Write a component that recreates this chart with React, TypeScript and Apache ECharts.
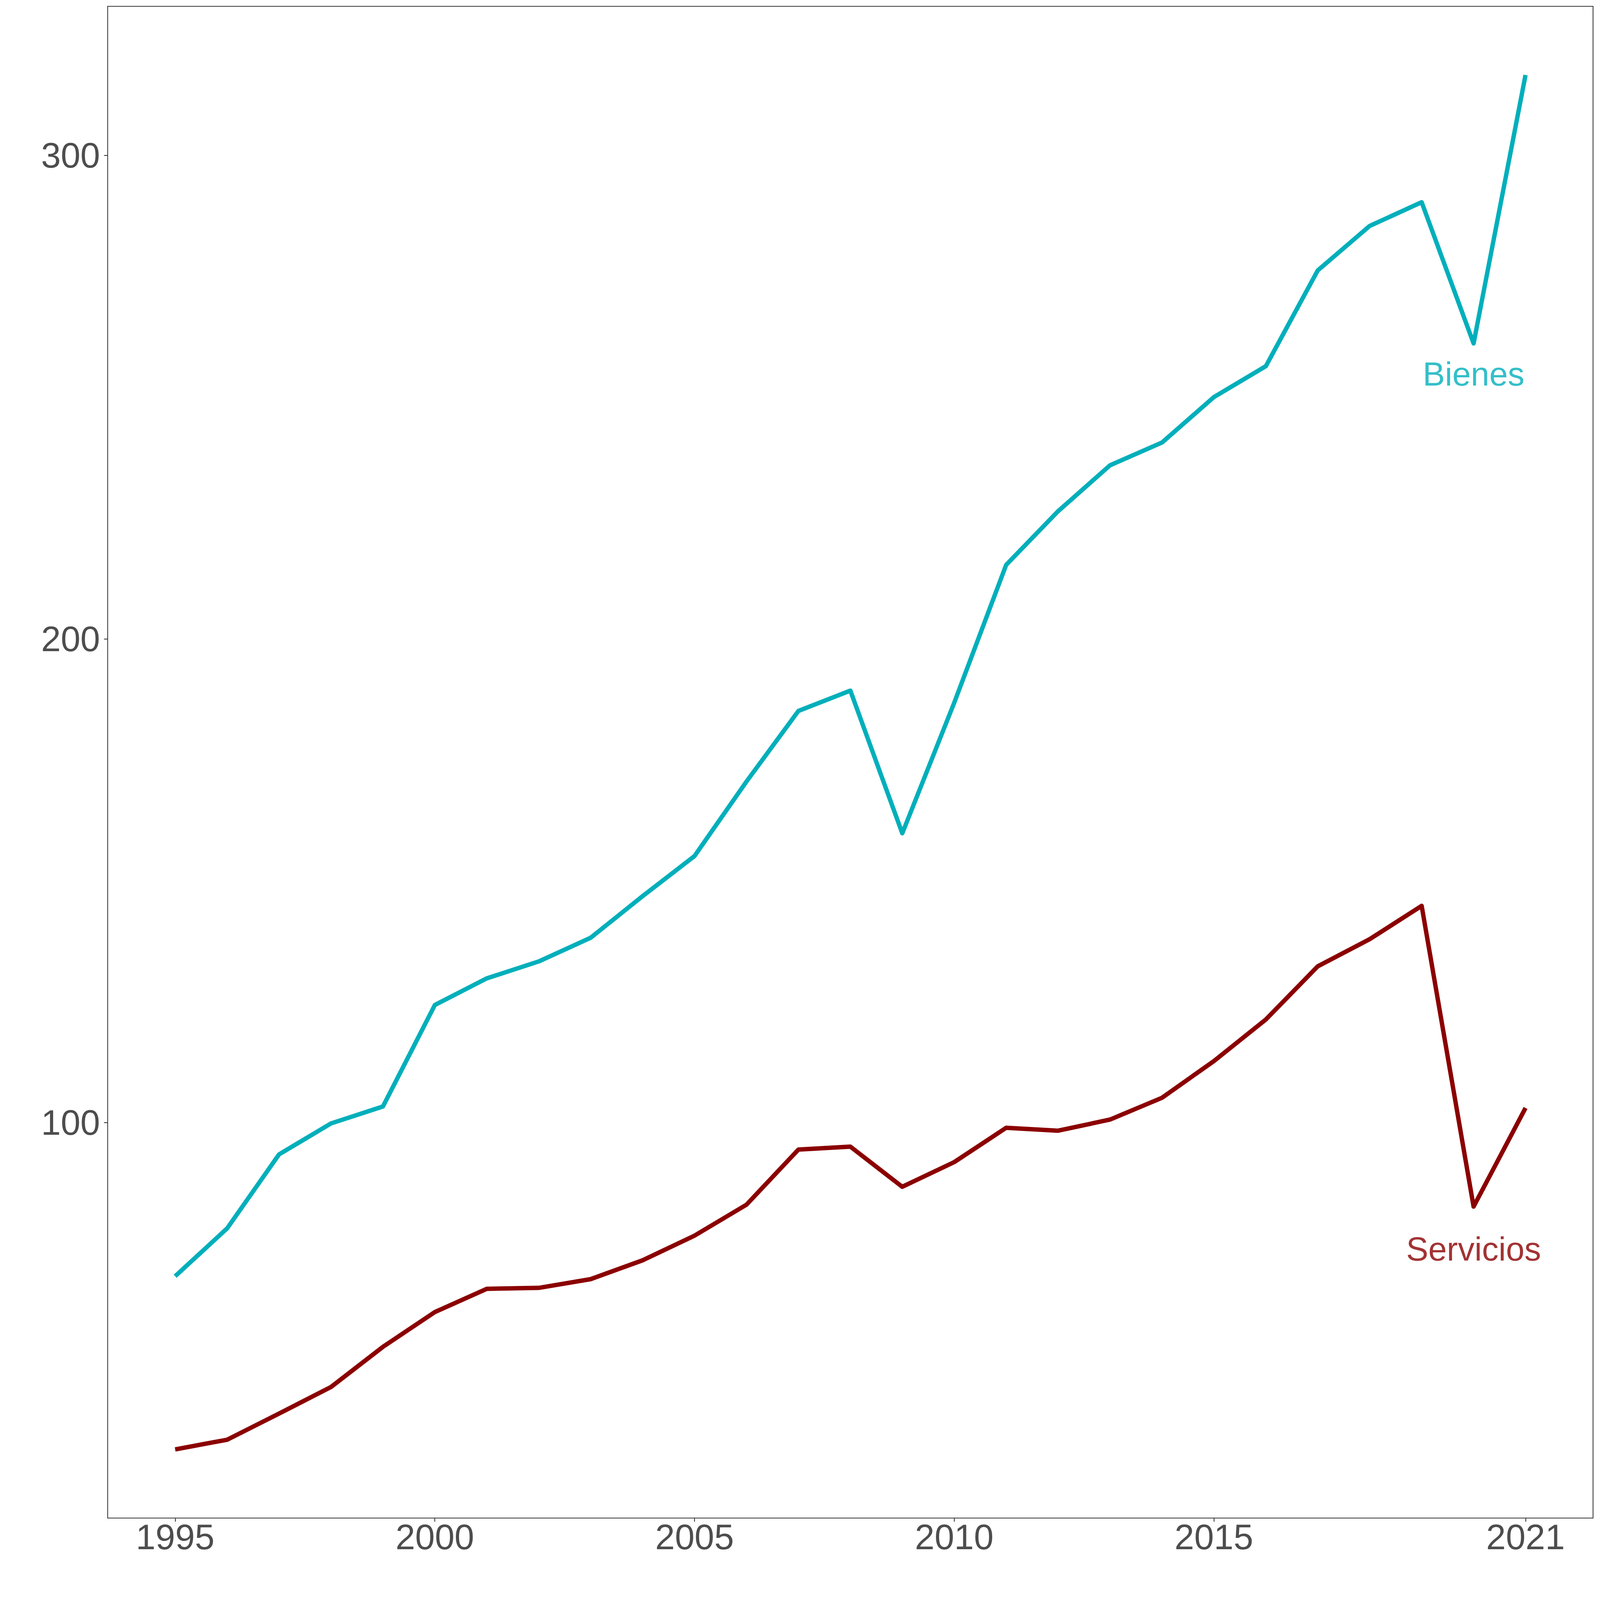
import React, { useEffect, useRef, useState } from "react";
import * as echarts from "echarts";

const years = [1995, 1996, 1997, 1998, 1999, 2000, 2001, 2002, 2003, 2004, 2005, 2006, 2007, 2008, 2009, 2010, 2011, 2012, 2013, 2014, 2015, 2016, 2017, 2018, 2019, 2020, 2021];
const bienes = [68.2, 78.1, 93.4, 99.8, 103.3, 124.3, 129.8, 133.3, 138.2, 146.8, 155.1, 170.5, 185.1, 189.3, 159.8, 186.8, 215.3, 226.4, 235.9, 240.6, 250.0, 256.4, 276.2, 285.4, 290.3, 261.1, 316.6];
const servicios = [32.4, 34.4, 39.8, 45.3, 53.6, 60.8, 65.6, 65.8, 67.6, 71.5, 76.6, 83.0, 94.4, 95.0, 86.7, 91.8, 98.9, 98.3, 100.6, 105.1, 112.7, 121.3, 132.3, 137.9, 144.8, 82.6, 103.0];

const xTickLabels = [1995, 2000, 2005, 2010, 2015, 2021];
const yTickLabels = [100, 200, 300];

const seriesNames = ["Bienes", "Servicios"];
const seriesColors = ["#00AFBB", "#8B0000"];
const labelYears = [2020, 2020];
const labelValues = [254.8, 73.8];

const X_MIN = 1993.7;
const X_MAX = 2022.3;
const Y_MIN = 18.2;
const Y_MAX = 330.8;

const REF = 5291;
const FONT = "'Liberation Sans', Arial, Helvetica, sans-serif";

export default function App() {
  const ref = useRef<HTMLDivElement>(null);
  const [size] = useState(() => {
    const w = typeof window !== "undefined" ? window.innerWidth : REF;
    const h = typeof window !== "undefined" ? window.innerHeight : REF;
    return Math.min(w, h) || REF;
  });

  useEffect(() => {
    document.body.style.margin = "0";
    document.body.style.background = "#FFFFFF";
    document.body.style.overflow = "hidden";
    if (!ref.current) return;
    const s = size / REF;
    const chart = echarts.init(ref.current, undefined, { renderer: "svg" });
    const seriesData = [bienes, servicios];
    const axisText = {
      fontSize: 117 * s,
      color: "#4D4D4D",
      fontFamily: FONT,
      formatter: (v: number) => String(v),
    };
    const tick = (vals: number[]) => ({
      show: true,
      customValues: vals,
      length: 12 * s,
      inside: false,
      lineStyle: { color: "#333333", width: 2.7 * s },
    });
    const option: any = {
      animation: false,
      backgroundColor: "#FFFFFF",
      grid: {
        left: 356 * s,
        top: 21 * s,
        right: 23 * s,
        bottom: 271 * s,
        show: true,
        borderColor: "#333333",
        borderWidth: 2.7 * s,
        backgroundColor: "transparent",
        containLabel: false,
      },
      xAxis: {
        type: "value",
        min: X_MIN,
        max: X_MAX,
        axisLine: { show: false },
        splitLine: { show: false },
        axisTick: tick(xTickLabels),
        axisLabel: { show: true, customValues: xTickLabels, margin: 4 * s, ...axisText },
      },
      yAxis: {
        type: "value",
        min: Y_MIN,
        max: Y_MAX,
        axisLine: { show: false },
        splitLine: { show: false },
        axisTick: tick(yTickLabels),
        axisLabel: { show: true, customValues: yTickLabels, margin: 25 * s, ...axisText },
      },
      series: [
        ...seriesNames.map((name, i) => ({
          name,
          type: "line",
          data: years.map((y, j) => [y, seriesData[i][j]]),
          symbol: "none",
          silent: true,
          lineStyle: { color: seriesColors[i], width: 14.5 * s, cap: "butt", join: "round" },
        })),
        {
          type: "scatter",
          silent: true,
          symbolSize: 0,
          data: seriesNames.map((name, i) => ({
            value: [labelYears[i], labelValues[i]],
            name,
            label: {
              show: true,
              position: "inside",
              formatter: name,
              color: seriesColors[i],
              fontSize: 110 * s,
              fontFamily: FONT,
            },
          })),
        },
      ],
    };
    chart.setOption(option);
    return () => chart.dispose();
  }, [size]);

  return <div ref={ref} style={{ width: size, height: size, background: "#FFFFFF" }} />;
}
